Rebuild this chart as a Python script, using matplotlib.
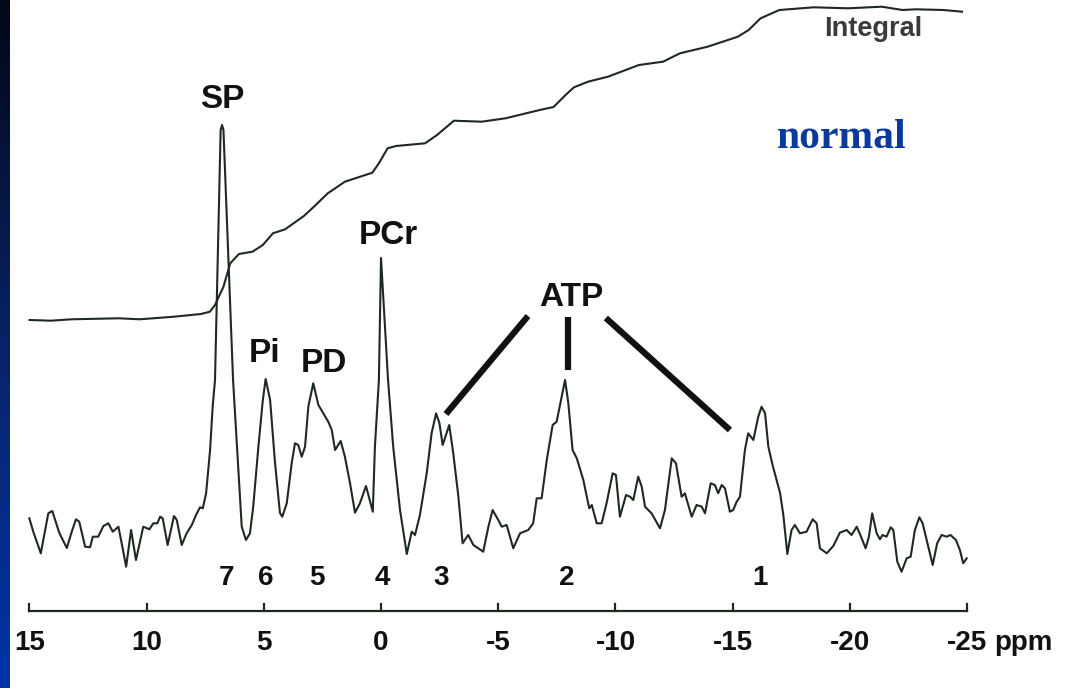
import numpy as np
import matplotlib.pyplot as plt
from matplotlib.colors import LinearSegmentedColormap

# 31P spectrum: chemical shift (ppm) and signal (arb. units)
shift = [15.00, 14.83, 14.51, 14.19, 14.02, 13.72, 13.40, 13.19, 13.01, 12.87,
         12.62, 12.41, 12.29, 12.06, 11.84, 11.63, 11.44, 11.20, 11.06, 10.87,
         10.66, 10.45, 10.14, 9.88, 9.71, 9.54, 9.42, 9.31, 9.10, 8.83,
         8.71, 8.50, 8.29, 8.07, 7.89, 7.72, 7.60, 7.46, 7.29, 7.18,
         7.08, 6.84, 6.78, 6.72, 6.31, 5.94, 5.76, 5.59, 5.45, 5.23,
         5.04, 4.92, 4.73, 4.52, 4.31, 4.21, 4.02, 3.81, 3.67, 3.53,
         3.38, 3.24, 3.10, 2.89, 2.67, 2.46, 2.25, 2.10, 1.96, 1.72,
         1.54, 1.32, 1.11, 0.90, 0.64, 0.54, 0.35, 0.26, 0.09, 0.00,
         -0.30, -0.52, -0.81, -1.10, -1.31, -1.45, -1.66, -1.95, -2.16, -2.35,
         -2.49, -2.63, -2.91, -3.08, -3.30, -3.48, -3.72, -3.94, -4.36, -4.58,
         -4.76, -5.00, -5.15, -5.36, -5.64, -5.93, -6.28, -6.49, -6.64, -6.85,
         -7.07, -7.32, -7.49, -7.85, -7.99, -8.17, -8.35, -8.63, -8.88, -8.99,
         -9.20, -9.41, -9.62, -9.88, -10.02, -10.19, -10.45, -10.62, -10.76, -10.97,
         -11.12, -11.26, -11.54, -11.90, -12.11, -12.40, -12.58, -12.82, -12.96, -13.25,
         -13.46, -13.68, -13.82, -14.06, -14.24, -14.38, -14.53, -14.67, -14.88, -15.02,
         -15.17, -15.31, -15.52, -15.66, -15.88, -16.09, -16.23, -16.38, -16.52, -16.70,
         -16.87, -17.02, -17.16, -17.33, -17.51, -17.65, -17.87, -18.15, -18.41, -18.58,
         -18.72, -19.01, -19.29, -19.57, -19.86, -20.07, -20.29, -20.50, -20.67, -20.81,
         -20.95, -21.14, -21.28, -21.39, -21.56, -21.74, -21.85, -22.02, -22.20, -22.42,
         -22.59, -22.77, -22.96, -23.10, -23.34, -23.53, -23.72, -23.91, -24.12, -24.29,
         -24.52, -24.69, -24.83, -24.98]
signal = [81.7, 68.3, 46.7, 86.7, 89.0, 67.0, 52.0, 68.3, 80.7, 78.3,
          53.3, 52.7, 63.3, 63.3, 74.0, 76.7, 68.3, 73.3, 56.7, 33.3,
          70.0, 40.0, 73.3, 70.7, 76.7, 76.7, 83.3, 81.7, 55.0, 84.0,
          80.0, 55.0, 66.7, 75.0, 85.0, 92.7, 91.7, 106.7, 150.0, 193.3,
          220.0, 470.0, 475.0, 470.0, 220.0, 73.3, 60.0, 66.7, 93.3, 153.3,
          200.0, 221.0, 200.0, 137.0, 87.0, 83.3, 96.7, 136.7, 156.7, 155.0,
          143.3, 153.3, 193.3, 216.7, 195.0, 186.7, 178.3, 170.0, 150.0, 159.0,
          143.3, 116.7, 87.3, 96.7, 114.0, 105.0, 88.3, 153.3, 220.0, 342.0,
          220.0, 153.3, 90.0, 46.0, 68.3, 65.0, 85.0, 127.0, 167.0, 186.7,
          177.0, 155.0, 175.0, 147.0, 103.3, 56.7, 65.0, 55.0, 48.3, 73.3,
          90.0, 80.0, 73.3, 75.0, 51.7, 66.7, 70.0, 76.7, 101.7, 101.7,
          140.0, 175.0, 178.3, 220.0, 196.7, 150.0, 141.7, 120.0, 91.7, 95.0,
          76.7, 76.7, 96.7, 126.7, 125.0, 83.3, 105.0, 103.3, 100.0, 123.3,
          113.3, 93.3, 86.7, 71.7, 90.0, 141.7, 136.7, 103.3, 106.7, 83.3,
          95.0, 93.3, 86.7, 116.7, 115.0, 106.7, 115.0, 111.7, 88.3, 90.0,
          98.3, 103.3, 150.0, 166.7, 160.0, 183.3, 193.3, 186.7, 153.3, 135.0,
          120.0, 107.0, 85.0, 46.0, 70.0, 75.0, 66.7, 68.3, 80.7, 76.7,
          51.7, 46.7, 54.0, 67.3, 70.0, 65.0, 73.3, 61.7, 51.7, 63.3,
          86.7, 66.7, 60.7, 65.0, 63.3, 72.7, 70.0, 38.3, 28.3, 41.7,
          43.3, 70.0, 82.7, 76.7, 53.3, 35.0, 56.7, 65.0, 63.3, 65.0,
          60.0, 50.0, 36.7, 41.7]

# integral trace
int_shift = [14.99, 14.08, 13.21, 11.17, 10.29, 8.83, 7.68, 7.30, 7.08, 6.72,
             6.43, 6.06, 5.48, 5.04, 4.61, 4.09, 3.29, 2.86, 2.27, 1.54,
             0.37, 0.09, -0.28, -0.64, -1.88, -2.39, -3.11, -4.29, -5.31, -6.77,
             -7.36, -7.87, -8.23, -8.83, -9.68, -11.00, -12.03, -12.75, -13.93, -15.22,
             -15.68, -16.19, -16.99, -18.45, -19.91, -21.36, -22.24, -22.81, -23.99, -24.78]
int_value = [280.0, 279.3, 280.7, 281.7, 280.7, 283.3, 286.0, 288.3, 295.0, 313.3,
             336.7, 346.0, 348.3, 355.0, 366.7, 370.7, 384.0, 393.3, 406.7, 418.3,
             427.3, 436.7, 451.7, 454.0, 456.7, 465.0, 479.3, 478.3, 481.7, 490.0,
             493.0, 505.0, 512.7, 518.3, 523.3, 535.0, 538.3, 546.7, 553.3, 563.3,
             570.0, 581.7, 590.0, 592.7, 591.7, 593.3, 590.0, 590.7, 590.0, 588.3]

peak_names = ["SP", "Pi", "PD", "PCr", "ATP"]
peak_pos = [(6.78, 500), (4.95, 247), (2.43, 237), (-0.30, 364), (-8.10, 302)]
peak_numbers = ["7", "6", "5", "4", "3", "2", "1"]
number_pos = [6.57, 4.90, 2.73, -0.04, -2.56, -7.93, -16.16]
tick_values = [15, 10, 5, 0, -5, -10, -15, -20, -25]

ink = "#1f2a1f"

fig = plt.figure(figsize=(10.83, 6.88), dpi=100)
ax = fig.add_axes([0, 0, 1, 1])
ax.set_xlim(16.25, -29.94)
ax.set_ylim(-88, 600)
ax.axis("off")

ax.plot(shift, signal, color=ink, lw=1.5)
ax.plot(int_shift, int_value, color=ink, lw=1.5)

bold = dict(family="Liberation Sans", weight="bold", color="#111111")
for name, (px, py) in zip(peak_names, peak_pos):
    ax.text(px, py, name, fontsize=24, ha="center", va="center", **bold)

# ATP pointer lines
atp_lines = [((-6.27, -2.77), (284, 186)), ((-7.97, -7.97), (283, 230)),
             ((-9.59, -14.88), (282, 170))]
for xs, ys in atp_lines:
    ax.plot(xs, ys, color="#111111", lw=4.5, solid_capstyle="butt")

for lab, px in zip(peak_numbers, number_pos):
    ax.text(px, 22, lab, fontsize=20, ha="center", va="center", **bold)

# ppm scale
ax.plot([tick_values[0], tick_values[-1]], [-11, -11], color=ink, lw=1.6)
for t in tick_values:
    ax.plot([t, t], [-11, -4], color=ink, lw=1.6)
    ax.text(t, -43, f"{t}", fontsize=20, ha="center", va="center", **bold)
ax.text(-26.15, -43, "ppm", fontsize=20, ha="left", va="center", **bold)

ax.text(-21.0, 571, "Integral", fontsize=19.5, ha="center", va="center",
        family="Liberation Sans", weight="bold", color="#3a3a3a")
ax.text(-19.66, 462, "normal", fontsize=30, ha="center", va="center",
        family="Liberation Serif", weight="bold", color="#0a3a9c")

# dark blue strip on the left edge
strip = fig.add_axes([0, 0, 10 / 1083, 1])
strip.axis("off")
cmap = LinearSegmentedColormap.from_list("strip", ["#020816", "#0a2266", "#0035a8"])
strip.imshow(np.linspace(0, 1, 256).reshape(-1, 1), cmap=cmap, aspect="auto")

fig.savefig("out.png", dpi=100)
